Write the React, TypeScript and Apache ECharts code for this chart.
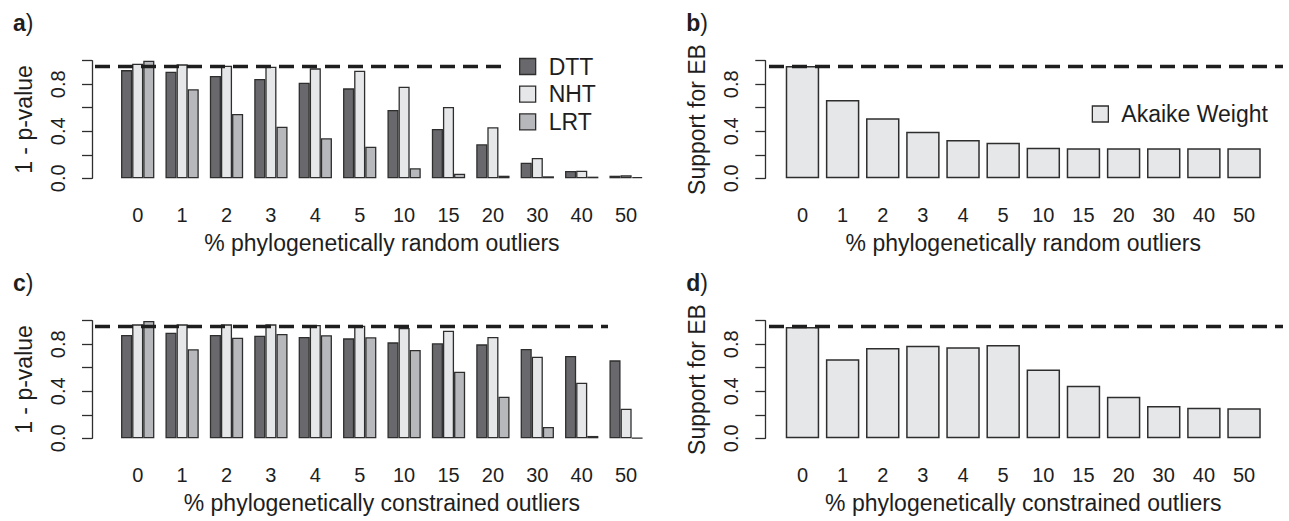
import React, { useEffect, useRef } from "react";
import * as echarts from "echarts";

// ---- data ----
const categories = ["0", "1", "2", "3", "4", "5", "10", "15", "20", "30", "40", "50"];
const randDTT = [0.92, 0.907, 0.87, 0.844, 0.813, 0.765, 0.581, 0.419, 0.289, 0.133, 0.062, 0.022];
const randNHT = [0.975, 0.969, 0.958, 0.949, 0.935, 0.915, 0.779, 0.606, 0.434, 0.173, 0.065, 0.025];
const randLRT = [1.0, 0.757, 0.547, 0.439, 0.34, 0.269, 0.085, 0.039, 0.022, 0.017, 0.014, 0.01];
const randAkaike = [0.955, 0.666, 0.51, 0.396, 0.326, 0.303, 0.26, 0.255, 0.255, 0.255, 0.255, 0.255];
const consDTT = [0.878, 0.898, 0.878, 0.873, 0.861, 0.85, 0.816, 0.808, 0.799, 0.759, 0.7, 0.663];
const consNHT = [0.969, 0.969, 0.969, 0.969, 0.963, 0.958, 0.938, 0.915, 0.861, 0.694, 0.473, 0.252];
const consLRT = [0.997, 0.757, 0.856, 0.887, 0.877, 0.859, 0.751, 0.566, 0.354, 0.096, 0.02, 0.003];
const consAkaike = [0.946, 0.672, 0.768, 0.788, 0.774, 0.793, 0.584, 0.447, 0.354, 0.275, 0.26, 0.255];
const refLevel = 0.95;
const testNames = ["DTT", "NHT", "LRT"];
const akaikeName = "Akaike Weight";
const yTicks = [0, 0.2, 0.4, 0.6, 0.8, 1.0];

// ---- style ----
const FONT = '"Liberation Sans", Arial, Helvetica, sans-serif';
const TXT = "#1e1e1e";
const BORDER = "#2e2e2e";
const testColors = ["#69696d", "#e6e7e9", "#b7b8bb"];
const akaikeColor = "#e6e7e9";

const UNIT_H = 117.6;

type Panel = {
  label: string;
  axisX: number;
  gridLeft: number;
  gridWidth: number;
  zeroY: number;
  dashLeft: number;
  dashRight: number;
  yName: string;
  xName: string;
  kind: "tests" | "akaike";
  values: number[][];
};

const panels: Panel[] = [
  { label: "a", axisX: 92, gridLeft: 115.5, gridWidth: 532.8, zeroY: 178.3, dashLeft: 95, dashRight: 608,
    yName: "1 - p-value", xName: "% phylogenetically random outliers", kind: "tests", values: [randDTT, randNHT, randLRT] },
  { label: "b", axisX: 765.3, gridLeft: 782.4, gridWidth: 481.7, zeroY: 178.3, dashLeft: 769, dashRight: 1283,
    yName: "Support for EB", xName: "% phylogenetically random outliers", kind: "akaike", values: [randAkaike] },
  { label: "c", axisX: 92, gridLeft: 115.5, gridWidth: 532.8, zeroY: 438.3, dashLeft: 95, dashRight: 608,
    yName: "1 - p-value", xName: "% phylogenetically constrained outliers", kind: "tests", values: [consDTT, consNHT, consLRT] },
  { label: "d", axisX: 765.3, gridLeft: 782.4, gridWidth: 481.7, zeroY: 438.3, dashLeft: 769, dashRight: 1283,
    yName: "Support for EB", xName: "% phylogenetically constrained outliers", kind: "akaike", values: [consAkaike] },
];

function buildOption() {
  const grid: any[] = [];
  const xAxis: any[] = [];
  const yAxis: any[] = [];
  const series: any[] = [];
  const graphic: any[] = [];

  panels.forEach((p, i) => {
    const top = p.zeroY - UNIT_H;
    const gBar = grid.length;
    grid.push({ left: p.gridLeft, top, width: p.gridWidth, height: UNIT_H, outerBoundsMode: "none", containLabel: false });
    const gDash = grid.length;
    grid.push({ left: p.dashLeft, top, width: p.dashRight - p.dashLeft, height: UNIT_H, outerBoundsMode: "none", containLabel: false });

    xAxis.push({
      type: "category", gridIndex: gBar, data: categories,
      axisLine: { show: false }, axisTick: { show: false }, splitLine: { show: false },
      axisLabel: { fontSize: 20, fontFamily: FONT, color: TXT, margin: 27, interval: 0 },
      name: p.xName, nameLocation: "middle", nameGap: 53,
      nameTextStyle: { fontSize: 23, fontFamily: FONT, color: TXT },
    });
    yAxis.push({
      type: "value", gridIndex: gBar, min: 0, max: 1, interval: 0.2,
      offset: p.gridLeft - p.axisX,
      axisLine: { show: true, lineStyle: { color: BORDER, width: 1.3 } },
      axisTick: { show: true, inside: false, length: 10, lineStyle: { color: BORDER, width: 1.3 } },
      splitLine: { show: false },
      axisLabel: {
        rotate: 90, fontSize: 20, fontFamily: FONT, color: TXT, margin: 24,
        formatter: (v: number) => {
          const k = yTicks.findIndex((t) => Math.abs(t - v) < 1e-6);
          return k % 2 === 0 ? v.toFixed(1) : "";
        },
      },
      name: p.yName, nameLocation: "middle", nameRotate: 90, nameGap: 57,
      nameTextStyle: { fontSize: 23, fontFamily: FONT, color: TXT },
    });
    const xDash = xAxis.length;
    xAxis.push({ type: "value", gridIndex: gDash, min: 0, max: 1, show: false });
    const yDash = yAxis.length;
    yAxis.push({ type: "value", gridIndex: gDash, min: 0, max: 1, show: false });

    if (p.kind === "tests") {
      p.values.forEach((vals, s) => {
        series.push({
          type: "bar", name: testNames[s], xAxisIndex: gBar, yAxisIndex: gBar, data: vals,
          barGap: "0%", barCategoryGap: "25%",
          itemStyle: { color: testColors[s], borderColor: BORDER, borderWidth: 1.3 },
          silent: true,
        });
      });
    } else {
      series.push({
        type: "bar", name: akaikeName, xAxisIndex: gBar, yAxisIndex: gBar, data: p.values[0],
        barCategoryGap: "16.67%",
        itemStyle: { color: akaikeColor, borderColor: BORDER, borderWidth: 1.5 },
        silent: true,
      });
    }
    series.push({
      type: "line", name: "ref" + i, xAxisIndex: xDash, yAxisIndex: yDash,
      data: [[0, refLevel], [1, refLevel]], symbol: "none", silent: true, z: 3,
      lineStyle: { color: "#1e1e1e", width: 3.5, type: [15, 8] },
    });

    graphic.push({
      type: "text", x: p.axisX - 79, y: p.zeroY - 155, z: 10,
      style: {
        text: "{b|" + p.label + "})", fill: TXT, fontSize: 23, fontFamily: FONT, verticalAlign: "middle",
        rich: { b: { fontWeight: "bold", fontSize: 23, fontFamily: FONT, fill: TXT } },
      },
    });
  });

  const legend = [
    {
      data: testNames, orient: "vertical", left: 502, top: 49, padding: [6, 17, 6, 17],
      backgroundColor: "#ffffff", itemWidth: 16, itemHeight: 16, itemGap: 4.7, icon: "rect", z: 6,
      itemStyle: { borderColor: BORDER, borderWidth: 1.3 },
      textStyle: { fontSize: 23, lineHeight: 23, fontFamily: FONT, color: TXT, padding: [0, 0, 0, 8] },
      selectedMode: false,
    },
    {
      data: [akaikeName], orient: "vertical", left: 1091.7, top: 102.5, padding: 0,
      itemWidth: 16, itemHeight: 16, icon: "rect", z: 6,
      itemStyle: { borderColor: BORDER, borderWidth: 1.3 },
      textStyle: { fontSize: 23, lineHeight: 23, fontFamily: FONT, color: TXT, padding: [0, 0, 0, 8] },
      selectedMode: false,
    },
  ];

  return {
    animation: false,
    backgroundColor: "#ffffff",
    textStyle: { fontFamily: FONT },
    grid, xAxis, yAxis, series, legend, graphic,
  };
}

export default function App() {
  const ref = useRef<HTMLDivElement>(null);
  useEffect(() => {
    if (!ref.current) return;
    const chart = echarts.init(ref.current, null, { renderer: "svg" });
    chart.setOption(buildOption() as any);
    return () => chart.dispose();
  }, []);
  return (
    <div
      ref={ref}
      style={{ position: "absolute", left: 0, top: 0, width: 1289, height: 521, background: "#fff" }}
    />
  );
}
